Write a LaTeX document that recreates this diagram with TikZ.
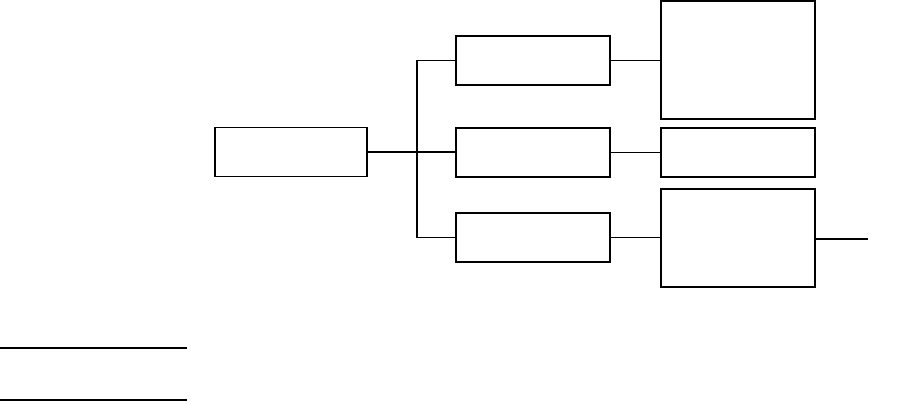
\documentclass[tikz,border=0pt]{standalone}
\begin{document}
\begin{tikzpicture}[x=1pt,y=-1pt,line width=1pt,
  box/.style={draw,black,line width=1.2pt,inner sep=0pt,minimum height=49pt},
  wire/.style={draw,black,line width=1.1pt}]
\useasboundingbox (0,0) rectangle (900,404);
\node[box,minimum width=152pt] (r) at (291,152) {};
\node[box,minimum width=154pt] (m1) at (533,60.5) {};
\node[box,minimum width=154pt] (m2) at (533,152.5) {};
\node[box,minimum width=154pt] (m3) at (533,237.5) {};
\node[box,minimum width=154pt,minimum height=118pt] (q1) at (738,60) {};
\node[box,minimum width=154pt] (q2) at (738,152.5) {};
\node[box,minimum width=154pt,minimum height=98pt] (q3) at (738,238) {};
\coordinate (jt) at (417,60.5);
\coordinate (jb) at (417,237.5);
\coordinate (out) at (868,239);
\coordinate (l1a) at (0,348);
\coordinate (l1b) at (187,348);
\coordinate (l2a) at (0,400);
\coordinate (l2b) at (187,400);
\draw[wire] (r.east) -- (m2.west |- r.east);
\draw[wire] (m1.west) -- (jt) -- (jb) -- (m3.west);
\draw[wire] (m1.east) -- (q1.west |- m1.east);
\draw[wire] (m2.east) -- (q2.west);
\draw[wire] (m3.east) -- (q3.west |- m3.east);
\draw[wire] (q3.east |- out) -- (out);
\draw[wire] (l1a) -- (l1b);
\draw[wire,line width=1.8pt] (l2a) -- (l2b);
\end{tikzpicture}
\end{document}
